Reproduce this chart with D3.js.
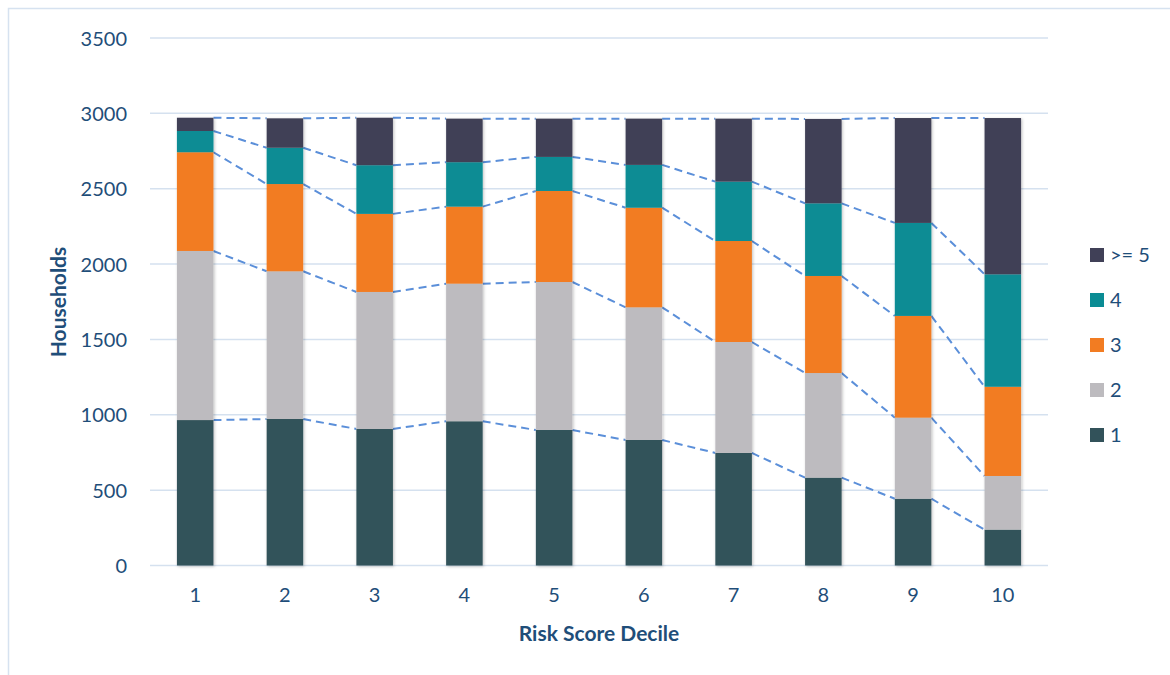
<!DOCTYPE html>
<html><head><meta charset="utf-8">
<script src="https://cdn.jsdelivr.net/npm/d3@7/dist/d3.min.js"></script>
<style>body{margin:0;background:#fff;} svg{display:block;font-family:Lato,"Open Sans",sans-serif;}</style>
</head><body>
<svg id="chart" width="1170" height="675"></svg>
<script>
const categories = ["1","2","3","4","5","6","7","8","9","10"];
const seriesNames = ["1","2","3","4",">= 5"];
const s1  = [965, 972, 906, 957, 899, 833, 747, 583, 443, 238];
const s2  = [1122, 980, 909, 913, 982, 880, 736, 694, 538, 356];
const s3  = [655, 579, 518, 511, 604, 661, 670, 644, 675, 592];
const s4  = [141, 241, 323, 295, 226, 284, 394, 482, 617, 746];
const s5  = [88, 195, 315, 289, 254, 307, 418, 560, 696, 1037];
const yTicks = [0, 500, 1000, 1500, 2000, 2500, 3000, 3500];
const colors = ["#32525a", "#bdbbbf", "#f27c22", "#0a8c94", "#404057"];

const seriesVals = [s1, s2, s3, s4, s5];
const rows = categories.map((c, i) => {
  const r = {cat: c};
  seriesNames.forEach((n, j) => r[n] = seriesVals[j][i]);
  return r;
});
const stacked = d3.stack().keys(seriesNames)(rows);

const svg = d3.select("#chart");
const textColor = "#1f4e79";
const FF = "Lato,'Open Sans',sans-serif";

// frame
svg.append("path").attr("d", "M8.5,675 V8.5 H1170").attr("fill", "none").attr("stroke", "#d6e2f0").attr("stroke-width", 1.5);

const x = d3.scaleBand().domain(categories).range([150, 1048]).paddingInner(0.593).paddingOuter(0.3);
const y = d3.scaleLinear().domain([0, 3500]).range([565.5, 38]);

const defs = svg.append("defs");
const f = defs.append("filter").attr("id", "sh").attr("x", "-20%").attr("y", "-5%").attr("width", "140%").attr("height", "110%");
f.append("feDropShadow").attr("dx", 1).attr("dy", 1).attr("stdDeviation", 1.5).attr("flood-color", "#000").attr("flood-opacity", 0.25);

// gridlines
svg.append("g").selectAll("line").data(yTicks).join("line")
  .attr("x1", 150).attr("x2", 1048)
  .attr("y1", d => y(d)).attr("y2", d => y(d))
  .attr("stroke", "#d5e1ef").attr("stroke-width", 1.5);

// y axis labels
const yAxis = d3.axisLeft(y).tickValues(yTicks).tickFormat(d3.format("d")).tickSize(0).tickPadding(0);
const gy = svg.append("g").attr("transform", "translate(127,0)").call(yAxis);
gy.select(".domain").remove();
gy.selectAll("text").attr("fill", textColor).style("font-size", "20px").style("font-family", FF).attr("dy", "0.35em");

// x axis labels
const xAxis = d3.axisBottom(x).tickSize(0).tickPadding(0);
const gx = svg.append("g").attr("transform", "translate(0,588)").call(xAxis);
gx.select(".domain").remove();
gx.selectAll("text").attr("fill", textColor).style("font-size", "20px").style("font-family", FF).attr("dy", "0.7em");

// series lines
const lineG = svg.append("g");
stacked.forEach(layer => {
  for (let i = 0; i < categories.length - 1; i++) {
    lineG.append("line")
      .attr("x1", x(categories[i]) + x.bandwidth())
      .attr("x2", x(categories[i + 1]))
      .attr("y1", y(layer[i][1]))
      .attr("y2", y(layer[i + 1][1]))
      .attr("stroke", "#5b8fd9").attr("stroke-width", 2)
      .attr("stroke-dasharray", "8,5");
  }
});

// bars
const barG = svg.append("g");
categories.forEach((c, i) => {
  const g = barG.append("g").attr("filter", "url(#sh)");
  stacked.forEach((layer, j) => {
    g.append("rect")
      .attr("x", x(c)).attr("width", x.bandwidth())
      .attr("y", y(layer[i][1]))
      .attr("height", y(layer[i][0]) - y(layer[i][1]))
      .attr("fill", colors[j]);
  });
});

// axis titles
svg.append("text").attr("transform", "translate(66,302) rotate(-90)")
  .attr("text-anchor", "middle").attr("fill", textColor)
  .style("font-size", "21px").style("font-weight", "bold").text("Households");
svg.append("text").attr("x", 599).attr("y", 641)
  .attr("text-anchor", "middle").attr("fill", textColor)
  .style("font-size", "21px").style("font-weight", "bold").text("Risk Score Decile");

// legend
const legendOrder = seriesNames.map((n, j) => ({n, c: colors[j]})).reverse();
const lg = svg.append("g").selectAll("g").data(legendOrder).join("g")
  .attr("transform", (d, i) => `translate(1090,${255 + i * 45})`);
lg.append("rect").attr("x", 0).attr("y", -7).attr("width", 14).attr("height", 14).attr("fill", d => d.c);
lg.append("text").attr("x", 20).attr("y", 0).attr("dy", "0.36em").attr("fill", textColor)
  .style("font-size", "20px").text(d => d.n);
</script>
</body></html>
